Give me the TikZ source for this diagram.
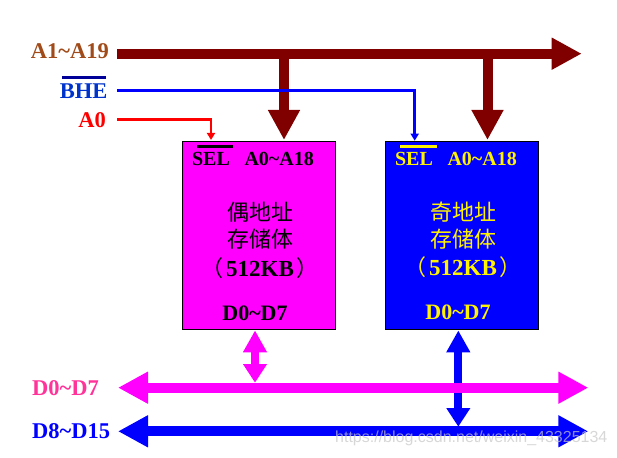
\documentclass[tikz,border=0pt]{standalone}
\usepackage{fontspec}
\setmainfont{Liberation Serif}
\newfontfamily\cjk{Noto Sans CJK SC}
\usetikzlibrary{positioning,arrows.meta}
\definecolor{busred}{RGB}{128,0,0}
\definecolor{addrbrown}{RGB}{160,75,25}
\definecolor{bhetext}{RGB}{0,51,204}
\definecolor{bhebar}{RGB}{0,0,153}
\definecolor{datapink}{RGB}{255,51,153}
\definecolor{evenpink}{RGB}{255,0,255}
\newcommand{\tl}{\textasciitilde}
\newcommand{\sizetext}{\hspace{3pt}{\fontspec{Liberation Serif}\fontsize{23}{24}\selectfont\bfseries 512KB}\hspace{3pt}}

\begin{document}
\begin{tikzpicture}[x=1pt, y=1pt,
  point/.style={inner sep=0pt,minimum size=0pt,outer sep=0pt},
  side/.style={inner sep=0pt,font=\fontsize{22.5}{24}\selectfont\bfseries},
  pin/.style={inner sep=0pt,font=\fontsize{20}{22}\selectfont\bfseries},
  inside/.style={inner sep=0pt,font=\fontsize{22}{24}\selectfont\bfseries},
  cntext/.style={inner sep=0pt,font=\fontsize{22}{24}\selectfont\cjk},
  chip/.style={draw=black,line width=0.9pt,minimum width=153pt,minimum height=188pt,inner sep=0pt,outer sep=0pt},
  addr/.style={busred,line width=10pt,-{Triangle[length=30pt,width=30pt]}},
  thin line/.style={line width=2.5pt,-{Triangle[length=7pt,width=8pt]}},
  databus/.style={line width=10pt,{Triangle[length=30pt,width=30pt]}-{Triangle[length=30pt,width=30pt]}},
  link/.style={{Triangle[length=22pt,width=22.6pt]}-{Triangle[length=18.5pt,width=22.6pt]}},
  bar/.style={line width=2.5pt},
]
\useasboundingbox (0,0) rectangle (617,457);

\node[chip,fill=evenpink] (even) at (259,222) {};
\node[chip,fill=blue]     (odd)  [right=50pt of even] {};

% ends of the lines
\node[point] (addrL) at (117,403.3) {};
\node[point] (addrR) [right=464.7pt of addrL] {};
\node[point] (bheL)  at (117,366.7) {};
\node[point] (a0L)   at (117,337.7) {};
\node[point] (evenA) [above right=1pt and 101.5pt of even.north west] {};
\node[point] (oddA)  [above right=1pt and 102pt of odd.north west] {};
\node[point] (evenS) [above right=1pt and 28.5pt of even.north west] {};
\node[point] (oddS)  [above right=0.3pt and 29.2pt of odd.north west] {};
\node[point] (evenD) [below right=1.4pt and 72.5pt of even.south west] {};
\node[point] (oddD)  [below right=1.4pt and 72.8pt of odd.south west] {};
\node[point] (evenB) [below=52.3pt of evenD] {};
\node[point] (oddB)  [below=96.3pt of oddD] {};
\node[point] (lowL)  at (118,25.7) {};
\node[point] (lowR)  [right=470.3pt of lowL] {};
\node[point] (highL) [above=43.6pt of lowL] {};
\node[point] (highR) [above=43.6pt of lowR] {};
\node[point] (bheBarL) at (62,379.7) {};
\node[point] (bheBarR) [right=44pt of bheBarL] {};
\node[point] (evenBarL) at (197,310.7) {};
\node[point] (evenBarR) [right=36pt of evenBarL] {};
\node[point] (oddBarL) at (400,310.7) {};
\node[point] (oddBarR) [right=37pt of oddBarL] {};

% left labels
\node[side,text=addrbrown,anchor=east] (addrT) at (109,405.5) {A1\tl A19};
\node[side,text=bhetext,anchor=east]   (bheT)  at (107.5,366) {BHE};
\node[side,text=red,anchor=east]       (a0T)   at (106,337) {A0};
\node[side,text=datapink,anchor=west]  (dlowT) at (32,69) {D0\tl D7};
\node[side,text=blue,anchor=west]      (dhighT) at (32,26) {D8\tl D15};

% inside the chips
\node[pin] (evenSel)  at (211,297.8) {SEL};
\node[pin] (evenAddr) [right=14.2pt of evenSel] {A0\tl A18};
\node[pin,text=yellow] (oddSel)  at (414,297.8) {SEL};
\node[pin,text=yellow] (oddAddr) [right=14.2pt of oddSel] {A0\tl A18};
\node[cntext] (evenN1) at (260,245) {偶地址};
\node[cntext] (evenN2) [below=6.5pt of evenN1] {存储体};
\node[cntext] (evenN3) at (260,189) {（\sizetext）};
\node[inside] (evenData) at (255,144) {D0\tl D7};
\node[cntext,text=yellow] (oddN1) at (463,245) {奇地址};
\node[cntext,text=yellow] (oddN2) [below=6pt of oddN1] {存储体};
\node[cntext,text=yellow] (oddN3) at (463,190) {（\sizetext）};
\node[inside,text=yellow] (oddData) at (458,145) {D0\tl D7};

\draw[addr] (addrL) -- (addrR);
\draw[addr] (addrL -| evenA) -- (evenA);
\draw[addr] (addrL -| oddA) -- (oddA);
\draw[thin line,blue] (bheL) -| (oddS);
\draw[thin line,red] (a0L) -| (evenS);
\draw[bar,bhebar] (bheBarL) -- (bheBarR);
\draw[bar,black] (evenBarL) -- (evenBarR);
\draw[bar,yellow] (oddBarL) -- (oddBarR);

\draw[databus,blue] (lowL) -- (lowR);
\draw[link,blue,line width=8.3pt] (oddD) -- (oddB);
\draw[databus,evenpink] (highL) -- (highR);
\draw[link,evenpink,line width=7.3pt] (evenD) -- (evenB);

\node[inner sep=0pt,anchor=west,text=gray!45,opacity=0.7,font=\fontsize{16}{18}\selectfont\fontspec{Liberation Sans}] (mark) at (335,19) {https://blog.csdn.net/weixin\_43325134};
\end{tikzpicture}
\end{document}
